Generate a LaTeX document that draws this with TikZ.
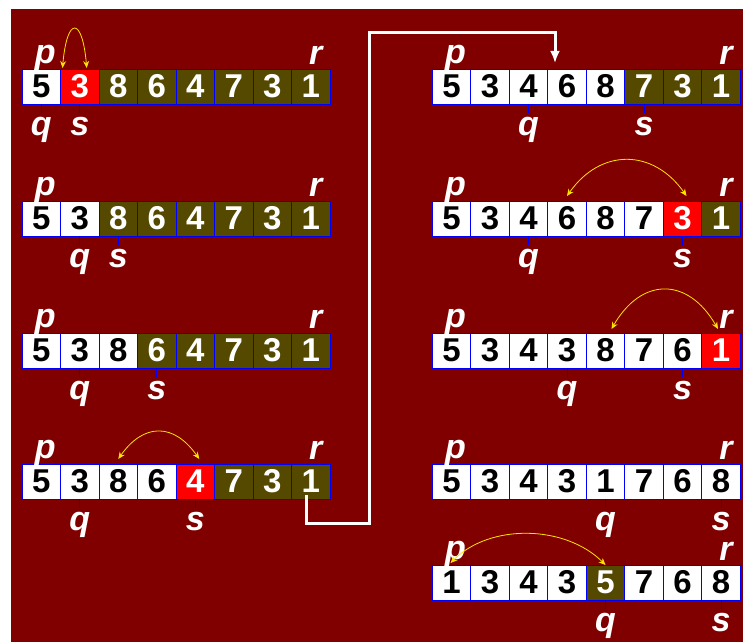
\documentclass[tikz,border=0pt]{standalone}
\usepackage{fontspec}
\setmainfont{Liberation Sans}
\usetikzlibrary{arrows.meta,positioning}

\definecolor{maroonbg}{RGB}{128,0,0}
\definecolor{olivecell}{RGB}{85,73,0}
\definecolor{redcell}{RGB}{255,0,0}
\definecolor{arcyellow}{RGB}{255,228,0}

\begin{document}
\begin{tikzpicture}[
  x=1pt, y=1pt,
  font=\fontsize{33}{33}\selectfont\bfseries,
  cell/.style={draw=blue, line width=0.8pt, minimum width=38.5pt, minimum height=35pt, inner sep=0pt, outer sep=0pt},
  cellw/.style={fill=white, text=black},
  cellr/.style={fill=redcell, text=white},
  cello/.style={fill=olivecell, text=white},
  lbl/.style={text=white, inner sep=0pt, text depth=0pt, font=\fontsize{34}{34}\selectfont\bfseries\itshape},
  qtick/.style={draw=blue, line width=0.8pt},
  xchg/.style={{Stealth[length=7pt,width=6pt]}-{Stealth[length=7pt,width=6pt]}, arcyellow, line width=0.8pt},
  jumpline/.style={-{Latex[length=12pt,width=10pt]}, white, line width=3pt}
]
  \useasboundingbox (0,0) rectangle (743,642);
  \fill[maroonbg] (11,0) rectangle (743,633);

  % the nine states of the array
  \foreach \row/\cx/\cy/\cells in {
    L1/41.25/555.5/{5/w,3/r,8/o,6/o,4/o,7/o,3/o,1/o},
    L2/41.25/423.5/{5/w,3/w,8/o,6/o,4/o,7/o,3/o,1/o},
    L3/41.25/291.5/{5/w,3/w,8/w,6/o,4/o,7/o,3/o,1/o},
    L4/41.25/160.5/{5/w,3/w,8/w,6/w,4/r,7/o,3/o,1/o},
    R1/451.5/555.5/{5/w,3/w,4/w,6/w,8/w,7/o,3/o,1/o},
    R2/451.5/423.5/{5/w,3/w,4/w,6/w,8/w,7/w,3/r,1/o},
    R3/451.5/291.5/{5/w,3/w,4/w,3/w,8/w,7/w,6/w,1/r},
    R4/451.5/160.5/{5/w,3/w,4/w,3/w,1/w,7/w,6/w,8/w},
    R5/451.5/59.5/{1/w,3/w,4/w,3/w,5/o,7/w,6/w,8/w}}
  {
    \foreach \v/\c [count=\i] in \cells
      \node[cell, cell\c] (\row-\i) at ({\cx+38.5*(\i-1)},\cy) {\v};
  }

  % indices p, r above and q, s below
  \foreach \row/\q/\s in {L1/1/2, L2/2/3, L3/2/4, L4/2/5, R1/3/6, R2/3/7, R3/4/7, R4/5/8, R5/5/8}
  {
    \node[lbl, above=5pt of \row-1, xshift=4pt] (\row-p) {p};
    \node[lbl, above=4pt of \row-8, xshift=5pt] (\row-r) {r};
    \node[lbl, below=9pt of \row-\q, inner ysep=4pt] (\row-q) {q};
    \node[lbl, below=9pt of \row-\s, inner ysep=4pt] (\row-s) {s};
    \draw[qtick] (\row-\q.south) -- (\row-q.north);
    \draw[qtick] (\row-\s.south) -- (\row-s.north);
  }

  % exchanges
  \draw[xchg] ([xshift=2pt,yshift=1pt]L1-1.north east) to[out=85, in=95, looseness=5.5] ([xshift=7pt,yshift=1pt]L1-2.north);
  \draw[xchg] ([yshift=5pt]L4-3.north) to[out=55, in=125, looseness=1.4] ([xshift=4pt,yshift=5pt]L4-5.north);
  \draw[xchg] ([yshift=5pt]R2-4.north) to[out=55, in=125, looseness=1.25] ([xshift=4pt,yshift=5pt]R2-7.north);
  \draw[xchg] ([xshift=6pt,yshift=4pt]R3-5.north) to[out=60, in=120, looseness=1.45] ([xshift=-3pt,yshift=4pt]R3-8.north);
  \draw[xchg] ([xshift=-1pt,yshift=2pt]R5-1.north) to[out=45, in=135, looseness=0.93] (R5-5.north);

  % continue in the right column
  \coordinate (jumplo) at (369,118);
  \coordinate (jumphi) at (369,609);
  \draw[jumpline] ([xshift=-4pt,yshift=4pt]L4-8.south) |- (jumplo) -- (jumphi) -| ([xshift=-12pt,yshift=6pt]R1-4.north);
\end{tikzpicture}
\end{document}
